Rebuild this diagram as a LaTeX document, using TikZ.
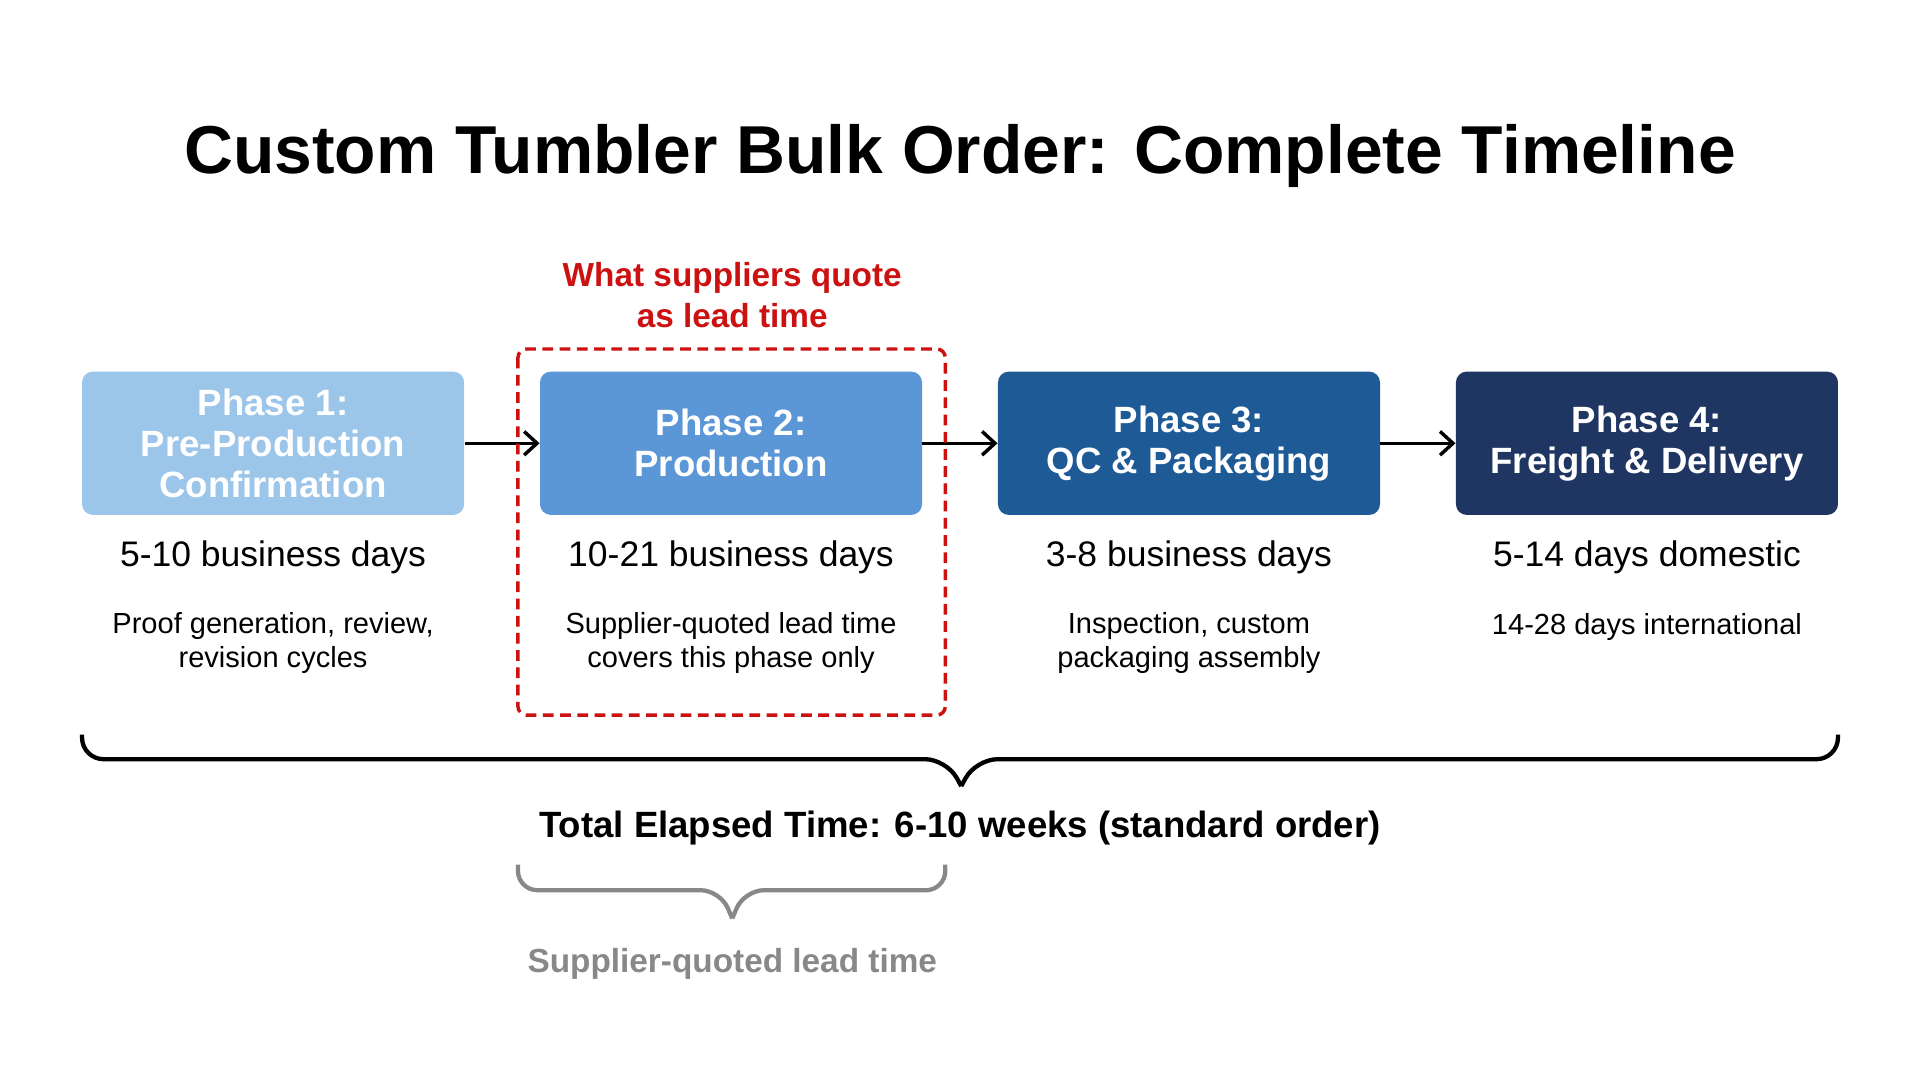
\documentclass[tikz,border=0pt]{standalone}
\usepackage{fontspec}
\setmainfont{Liberation Sans}
\usetikzlibrary{arrows.meta}
\definecolor{pa}{HTML}{9CC5EA}
\definecolor{pb}{HTML}{5B97D6}
\definecolor{pc}{HTML}{1E5A96}
\definecolor{pd}{HTML}{1F3562}
\definecolor{rd}{HTML}{CC1111}
\definecolor{gr}{HTML}{888888}
\begin{document}
\begin{tikzpicture}[x=0.02cm,y=-0.02cm,
 phase/.style={rounded corners=5pt,minimum width=312*0.02cm,minimum height=117*0.02cm,text=white,font=\fontsize{17}{19}\selectfont\bfseries,align=center,inner sep=0pt},
 days/.style={font=\fontsize{16.5}{19}\selectfont},
 desc/.style={font=\fontsize{13.5}{15.5}\selectfont,align=center},
 arr/.style={-{Straight Barb[length=6pt,width=11pt]},line width=1.6pt}]
\useasboundingbox (0,0) rectangle (1568,876);
\node[font=\fontsize{31.5}{36}\selectfont\bfseries] (title) at (784,127) {Custom Tumbler Bulk Order: Complete Timeline};
\node[phase,fill=pa] (p1) at (223,362) {Phase 1:\\Pre-Production\\Confirmation};
\node[phase,fill=pb] (p2) at (597,362) {Phase 2:\\Production};
\node[phase,fill=pc] (p3) at (971,362) {Phase 3:\\QC \& Packaging};
\node[phase,fill=pd] (p4) at (1345,362) {Phase 4:\\Freight \& Delivery};
\draw[arr] (p1) -- (p2);
\draw[arr] (p2) -- (p3);
\draw[arr] (p3) -- (p4);
\draw[rd,line width=1.6pt,dash pattern=on 5pt off 3pt,rounded corners=4pt] (423,285) rectangle (772,584);
\node[text=rd,font=\fontsize{15.5}{19}\selectfont\bfseries,align=center] (q) at (598,241) {What suppliers quote\\as lead time};
\node[days] (d1) at (223,455) {5-10 business days};
\node[days] (d2) at (597,455) {10-21 business days};
\node[days] (d3) at (971,455) {3-8 business days};
\node[days] (d4) at (1345,455) {5-14 days domestic};
\node[desc] (e1) at (223,525) {Proof generation, review,\\revision cycles};
\node[desc] (e2) at (597,525) {Supplier-quoted lead time\\covers this phase only};
\node[desc] (e3) at (971,525) {Inspection, custom\\packaging assembly};
\node[desc] (e4) at (1345,512) {14-28 days international};
\draw[line width=2pt,rounded corners=10pt] (67,600) -- (67,620) -- (773,620) -- (785,642);
\draw[line width=2pt,rounded corners=10pt] (1501,600) -- (1501,620) -- (797,620) -- (785,642);
\node[font=\fontsize{17}{20}\selectfont\bfseries] (tot) at (784,676) {Total Elapsed Time: 6-10 weeks (standard order)};
\draw[gr,line width=2pt,rounded corners=9pt] (423,706) -- (423,727) -- (588,727) -- (598,750);
\draw[gr,line width=2pt,rounded corners=9pt] (772,706) -- (772,727) -- (608,727) -- (598,750);
\node[text=gr,font=\fontsize{15.5}{19}\selectfont\bfseries] (sq) at (598,787) {Supplier-quoted lead time};
\end{tikzpicture}
\end{document}
